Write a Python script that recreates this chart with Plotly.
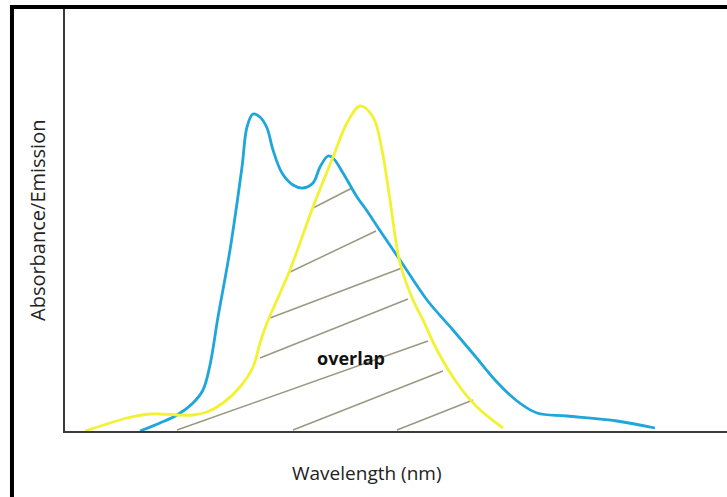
import plotly.graph_objects as go

# Schematic spectra (arbitrary wavelength units, arbitrary intensity)
blue_x = [75, 95, 112, 128, 138, 145, 153, 165, 177, 182, 188, 195, 202, 208, 217,
          228, 238, 248, 255, 263, 268, 278, 292, 300, 318, 337, 362, 388, 410, 430, 452, 472,
          502, 552, 590]
blue_y = [0, 8, 16, 28, 41, 66, 114, 181, 264, 304, 317, 314, 303, 281, 258,
          246, 243, 248, 264, 275, 273, 258, 234, 223, 196, 168, 131, 101, 75, 51, 30, 18,
          15, 10, 3]

yellow_x = [20, 45, 62, 85, 95, 112, 128, 142, 158, 175, 188, 195, 202, 212, 225, 248, 268, 282,
            295, 308, 317, 325, 335, 348, 358, 372, 392, 412, 438]
yellow_y = [0, 8, 13, 17, 17, 16, 16, 19, 28, 44, 64, 88, 108, 131, 161, 224, 274, 308,
            325, 314, 281, 231, 168, 131, 111, 81, 48, 24, 3]

# Hatch segments marking the overlap region
hatch_x0 = [248, 225, 205, 195, 112, 228, 332]
hatch_y0 = [223, 159, 113, 73, 1, 1, 1]
hatch_x1 = [287, 311, 337, 343, 363, 378, 408]
hatch_y1 = [243, 200, 163, 132, 90, 60, 31]

x_range = [0, 662]
y_range = [0, 422]

fig = go.Figure()

hx, hy = [], []
for a, b, c, d in zip(hatch_x0, hatch_y0, hatch_x1, hatch_y1):
    hx += [a, c, None]
    hy += [b, d, None]
fig.add_trace(go.Scatter(x=hx, y=hy, mode="lines",
                         line=dict(color="#9b9882", width=1.5), hoverinfo="skip"))

fig.add_trace(go.Scatter(x=blue_x, y=blue_y, mode="lines",
                         line=dict(color="#1fa6da", width=2.8, shape="spline", smoothing=1.0)))
fig.add_trace(go.Scatter(x=yellow_x, y=yellow_y, mode="lines",
                         line=dict(color="#f2f232", width=2.8, shape="spline", smoothing=1.0)))

axis_common = dict(showgrid=False, zeroline=False, showticklabels=False, ticks="",
                   showline=True, linecolor="#3a3a3a", linewidth=2, fixedrange=True)
fig.update_xaxes(range=x_range, **axis_common)
fig.update_yaxes(range=y_range, **axis_common)

font_family = "Open Sans, Noto Sans, sans-serif"
fig.update_layout(
    width=727, height=497,
    margin=dict(l=65, r=0, t=9, b=66),
    paper_bgcolor="white", plot_bgcolor="white",
    showlegend=False,
    font=dict(family=font_family, color="#222222"),
    annotations=[
        dict(text="Wavelength (nm)", xref="paper", yref="paper", x=0.456, y=-0.0995,
             showarrow=False, font=dict(size=19, color="#222222"), xanchor="center", yanchor="middle"),
        dict(text="Absorbance/Emission", xref="paper", yref="paper", x=-0.0423, y=0.5,
             showarrow=False, textangle=-90, font=dict(size=20, color="#222222"),
             xanchor="center", yanchor="middle"),
        dict(text="<b>overlap</b>", xref="x", yref="y", x=286, y=73,
             showarrow=False, font=dict(size=18, color="#111111"), xanchor="center", yanchor="middle"),
    ],
    shapes=[
        dict(type="line", xref="paper", yref="paper", x0=-0.0831, x1=1.02, y0=1.0047, y1=1.0047,
             line=dict(color="black", width=4)),
        dict(type="line", xref="paper", yref="paper", x0=-0.0801, x1=-0.0801, y0=1.0095, y1=-0.2,
             line=dict(color="black", width=4)),
    ],
)

fig.write_html("out.html")
